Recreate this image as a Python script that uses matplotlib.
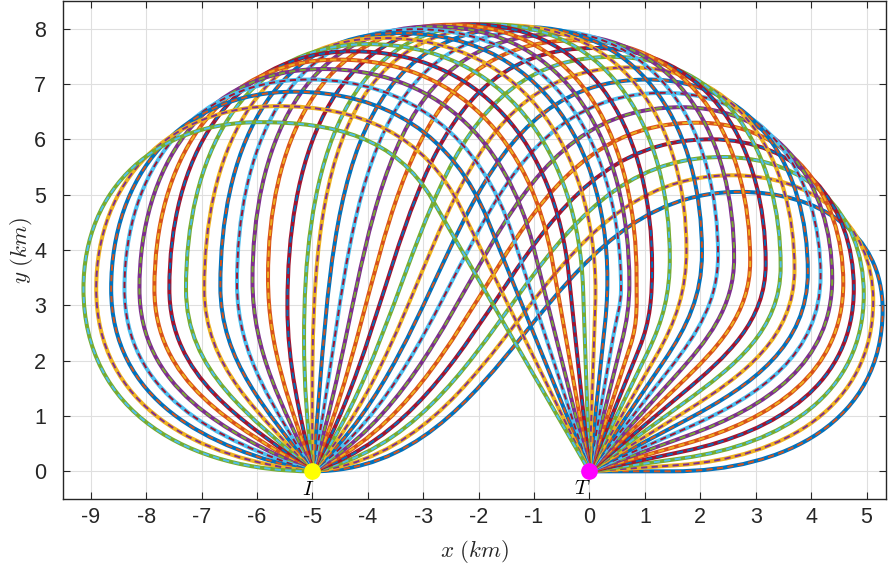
#! /usr/bin/env python3
"""
Family of guided trajectories from the launch point I to the target T.
Each trajectory is drawn twice: a solid line and a dashed overlay.
"""

import numpy as np
import matplotlib.pyplot as plt
from matplotlib.path import Path
from matplotlib.patches import PathPatch

nan = np.nan

# MATLAB default colour order
COLORS = ["#0072BD", "#D95319", "#EDB120", "#7E2F8E", "#77AC30", "#4DBEEE", "#A2142F"]

START = (-5.0, 0.0)  # I
TARGET = (0.0, 0.0)  # T

# launch heading at I and approach direction into T (deg), one per trajectory
LAUNCH_DEG = [0, 6, 12, 18, 24, 30, 36, 42, 48, 54, 60, 66, 72, 78, 84, 90,
              96, 102, 108, 114, 120, 126, 132, 138, 144, 150, 156, 162, 168, 174, 180]
IMPACT_DEG = [0, 4, 8, 12, 16, 20, 24, 28, 32, 36, 40, 44, 48, 52, 56, 60,
              64, 68, 72, 76, 80, 84, 88, 92, 96, 100, 104, 108, 112, 116, 120]

# highest point of each trajectory (km)
PEAK_X = [2.71, 2.58, 2.41, 2.19, 1.94, 1.66, 1.36, 1.05, 0.73, 0.41, 0.09,
          -0.23, -0.55, -0.87, -1.19, -1.51, -1.83, -2.17, -2.50, -2.82, -3.13,
          -3.43, -3.72, -4.00, -4.27, -4.54, -4.81, -5.07, -5.33, -5.62, -5.95]
PEAK_Y = [5.05, 5.35, 5.68, 6.00, 6.30, 6.58, 6.84, 7.08, 7.30, 7.49, 7.65,
          7.79, 7.90, 7.98, 8.03, 8.06, 8.08, 8.08, 8.07, 8.04, 7.99,
          7.92, 7.83, 7.72, 7.59, 7.44, 7.27, 7.08, 6.86, 6.60, 6.31]

# leftmost point of the loops left of I (km)
LEFT_X = [nan, nan, nan, nan, nan, nan, nan, nan, nan, nan, nan, nan, nan, nan, nan, nan,
          -5.15, -5.45, -5.80, -6.08, -6.36, -6.66, -6.95, -7.28, -7.58, -7.85,
          -8.12, -8.39, -8.63, -8.90, -9.13]
LEFT_Y = [nan, nan, nan, nan, nan, nan, nan, nan, nan, nan, nan, nan, nan, nan, nan, nan,
          2.40, 3.00, 3.50, 3.45, 3.40, 3.35, 3.30, 3.30, 3.30, 3.30,
          3.30, 3.30, 3.30, 3.30, 3.30]

# rightmost point of the loops right of T (km)
RIGHT_X = [5.29, 5.12, 4.95, 4.77, 4.58, 4.38, 4.17, 3.94, 3.70, 3.45, 3.18,
           2.90, 2.61, 2.32, 2.03, 1.75, 1.45, 1.13, 0.85, 0.72, 0.57,
           nan, nan, nan, nan, nan, nan, nan, nan, nan, nan]
RIGHT_Y = [2.92, 3.08, 3.20, 3.30, 3.40, 3.48, 3.54, 3.60, 3.65, 3.70, 3.75,
           3.80, 3.85, 3.90, 3.95, 4.00, 3.85, 3.70, 3.50, 3.40, 3.30,
           nan, nan, nan, nan, nan, nan, nan, nan, nan, nan]

# length of the straight final leg into T (km)
RAY_LEN = [1.5, 1.6, 1.7, 1.75, 1.8, 1.9, 1.95, 2.0, 2.05, 2.1, 2.2, 2.25, 2.3,
           2.35, 2.4, 2.4, 2.4, 2.4, 2.4, 2.4, 2.5, 2.7, 3.0, 3.3, 3.6, 3.9,
           4.2, 4.5, 4.9, 5.3, 5.66]


def unit(deg):
    rad = np.radians(deg)
    return np.array([np.cos(rad), np.sin(rad)])


def get_knots(k):
    """
    Points the trajectory passes through, with the heading there
    """
    knots = [(START[0], START[1], LAUNCH_DEG[k])]
    if not np.isnan(LEFT_X[k]):
        knots.append((LEFT_X[k], LEFT_Y[k], 90.0))
    knots.append((PEAK_X[k], PEAK_Y[k], 0.0))
    if not np.isnan(RIGHT_X[k]):
        knots.append((RIGHT_X[k], RIGHT_Y[k], -90.0))
    ray = unit(IMPACT_DEG[k]) * RAY_LEN[k]
    knots.append((TARGET[0] + ray[0], TARGET[1] + ray[1], IMPACT_DEG[k] + 180.0))
    knots.append((TARGET[0], TARGET[1], IMPACT_DEG[k] + 180.0))
    return knots


def get_path(knots, fullness=1.08):
    """
    Cubic bezier path through the knots, tangent to the headings
    """
    verts = [knots[0][:2]]
    codes = [Path.MOVETO]
    for (x0, y0, h0), (x1, y1, h1) in zip(knots[:-1], knots[1:]):
        chord = np.array([x1 - x0, y1 - y0])
        length = np.hypot(*chord)
        u0, u1 = unit(h0), unit(h1)
        a0 = np.arccos(np.clip(np.dot(u0, chord) / length, -1, 1))
        a1 = np.arccos(np.clip(np.dot(u1, chord) / length, -1, 1))
        alpha = 0.5 * (a0 + a1)
        hand = fullness * length * 2.0 / (3.0 * (1.0 + np.cos(alpha)))
        verts += [(x0 + hand * u0[0], y0 + hand * u0[1]),
                  (x1 - hand * u1[0], y1 - hand * u1[1]),
                  (x1, y1)]
        codes += [Path.CURVE4] * 3
    return Path(verts, codes)


def main():
    plt.rcParams["mathtext.fontset"] = "cm"
    plt.rcParams["axes.unicode_minus"] = False
    plt.rcParams["font.family"] = ["Liberation Sans Narrow", "Liberation Sans", "DejaVu Sans"]

    fig = plt.figure(figsize=(8.88, 5.75), dpi=100)
    ax = fig.add_axes([0.0709, 0.1322, 0.9268, 0.8661])

    for k in range(len(LAUNCH_DEG)):
        path = get_path(get_knots(k))
        ax.add_patch(PathPatch(path, fill=False, edgecolor=COLORS[(2 * k) % 7],
                               lw=2.9, zorder=3 + 2 * k))
        ax.add_patch(PathPatch(path, fill=False, edgecolor=COLORS[(2 * k + 1) % 7],
                               lw=1.4, linestyle=(0, (3.2, 2.2)), zorder=4 + 2 * k))

    ax.plot(*START, "o", ms=11, color="#FFFF00", zorder=100)
    ax.plot(*TARGET, "o", ms=11, color="#FF00FF", zorder=100)
    ax.text(-5.07, -0.32, r"$I$", fontsize=15, ha="center", va="center", zorder=101)
    ax.text(-0.13, -0.31, r"$T$", fontsize=15, ha="center", va="center", zorder=101)

    ax.set_xlim(-9.5, 5.35)
    ax.set_ylim(-0.5, 8.5)
    ax.set_xticks(range(-9, 6))
    ax.set_yticks(range(0, 9))
    ax.grid(True, color="#dfdfdf", lw=0.8, zorder=0)
    ax.set_axisbelow(True)
    for spine in ax.spines.values():
        spine.set_color("#262626")
        spine.set_linewidth(1.0)
    ax.tick_params(direction="in", length=5, width=0.8, top=True, right=True,
                   colors="#262626", labelsize=15.5)
    ax.tick_params(axis="x", pad=6)
    ax.tick_params(axis="y", pad=12)

    ax.set_xlabel(r"$x\ (km)$", fontsize=16.5, color="#262626")
    ax.set_ylabel(r"$y\ (km)$", fontsize=16.5, color="#262626")
    ax.xaxis.set_label_coords(0.5, -0.106)
    ax.xaxis.label.set_va("center")
    ax.yaxis.set_label_coords(-0.05, 0.5)
    ax.yaxis.label.set_va("center")

    fig.savefig("out.png", dpi=100)


if __name__ == "__main__":
    main()
